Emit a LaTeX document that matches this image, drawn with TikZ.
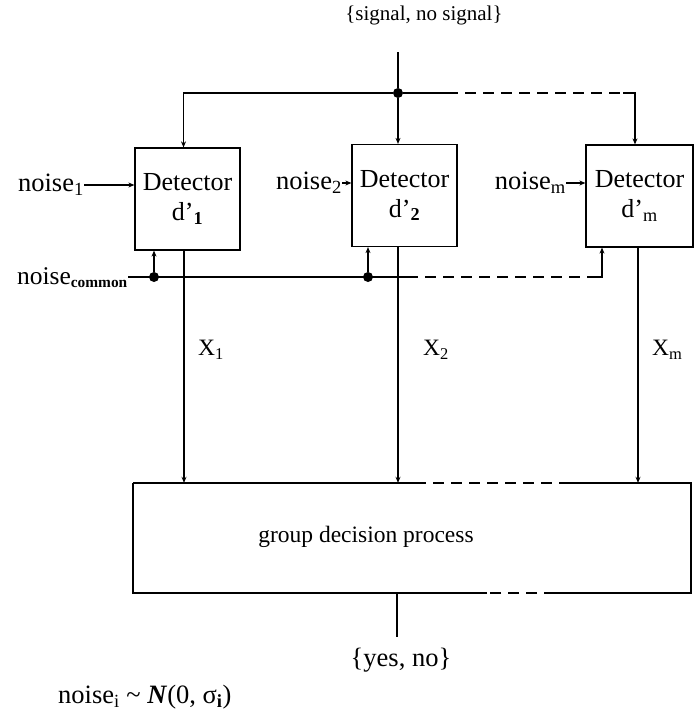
\documentclass[tikz,border=0pt]{standalone}
\usepackage{fontspec}
\setmainfont{Liberation Serif}
\usetikzlibrary{arrows.meta,calc}

\tikzset{
  wire/.style={line width=1.25pt},
  arr/.style={wire, -{Stealth[length=6pt,width=5pt]}},
  dashwire/.style={wire, dash pattern=on 11pt off 7pt},
  detbox/.style={draw, line width=1.25pt, minimum width=105pt, minimum height=102pt,
    inner sep=0pt, align=center, font=\fontsize{26}{30}\selectfont},
  junction/.style={circle, fill, inner sep=0pt, minimum size=10pt},
  lbl/.style={inner sep=0pt, font=\fontsize{26.5}{30}\selectfont},
  smalllbl/.style={inner sep=0pt, font=\fontsize{21}{26}\selectfont},
}

\begin{document}
\begin{tikzpicture}[x=1pt,y=-1pt]
\useasboundingbox (0,0) rectangle (694,713);

% detectors
\node[detbox] (d1) at (187.5,199) {Detector\\d’\textsubscript{\textbf{1}}};
\node[detbox] (d2) at (404.5,195.5) {Detector\\d’\textsubscript{\textbf{2}}};
\node[detbox, minimum width=107pt] (dm) at (639.5,196) {Detector\\d’\textsubscript{m}};

% group decision box
\node[minimum width=558pt, minimum height=110pt, inner sep=0pt] (group) at (412,538) {};
\node[inner sep=0pt, font=\fontsize{23.5}{28}\selectfont] (gtext) at (366,537) {group decision process};
\draw[wire] (133,483) -- (415,483);
\draw[dashwire] (415,483) -- (568,483);
\draw[wire] (568,483) -- (691,483) -- (691,593) -- (555,593);
\draw[dashwire] (555,593) -- (487,593);
\draw[wire] (487,593) -- (133,593) -- (133,483);

% signal input and distribution
\node[smalllbl] (sig) at (424,15) {\{signal, no signal\}};
\coordinate (sigtop) at (398,52);
\node[junction] (j) at (398,93) {};
\draw[wire] (sigtop) -- (j);
\draw[arr] (j) -| ([xshift=-4pt]d1.north);
\draw[arr] (j) -- (j |- d2.north);
\draw[wire] (j) -- (447,93);
\draw[dashwire] (447,93) -- (623,93);
\coordinate (tr) at (623,93);
\draw[arr] (tr) -| ([xshift=-4.5pt]dm.north);

% individual noise inputs
\node[lbl, anchor=east] (n1) at (84,185) {noise\textsubscript{1}};
\node[lbl, anchor=east] (n2) at (342,183) {noise\textsubscript{2}};
\node[lbl, anchor=east] (nm) at (566,183) {noise\textsubscript{m}};
\draw[arr] (n1) -- (n1 -| d1.west);
\draw[arr] (n2) -- (n2 -| d2.west);
\draw[arr] (nm) -- (nm -| dm.west);

% common noise
\node[lbl, anchor=base east, font=\fontsize{25.5}{30}\selectfont] (nc) at (128,284)
  {noise{\fontsize{22}{26}\selectfont\textsubscript{\textbf{common}}}};
\coordinate (ncs) at (128,277);
\node[junction] (c1) at (154,277) {};
\node[junction] (c2) at (368,277) {};
\draw[wire] (ncs) -- (407,277);
\draw[dashwire] (407,277) -- (587,277);
\coordinate (cr) at (587,277);
\draw[arr] (cr) -| ([xshift=-37.5pt]dm.south);
\draw[arr] (c1) -- (c1 |- d1.south);
\draw[arr] (c2) -- (c2 |- d2.south);

% detector outputs
\draw[arr] ([xshift=-3.5pt]d1.south) -- ([xshift=-3.5pt]d1.south |- group.north);
\draw[arr] ([xshift=-6.5pt]d2.south) -- ([xshift=-6.5pt]d2.south |- group.north);
\draw[arr] ([xshift=-1.5pt]dm.south) -- ([xshift=-1.5pt]dm.south |- group.north);
\node[lbl, anchor=west, font=\fontsize{23.5}{28}\selectfont] (x1) at (198,350) {X\textsubscript{1}};
\node[lbl, anchor=west, font=\fontsize{23.5}{28}\selectfont] (x2) at (423,350) {X\textsubscript{2}};
\node[lbl, anchor=west, font=\fontsize{23.5}{28}\selectfont] (xm) at (652,350) {X\textsubscript{m}};

% decision output
\coordinate (gout) at (397,593);
\coordinate (goutend) at (397,637);
\draw[wire] (gout) -- (goutend);
\node[lbl] (yn) at (401,660) {\{yes, no\}};

% noise distribution note
\node[lbl, anchor=west] (note) at (58,697) {noise\textsubscript{i} \textasciitilde{} \textbf{\textit{N}}(0, σ\textsubscript{\textbf{i}})};
\end{tikzpicture}
\end{document}
